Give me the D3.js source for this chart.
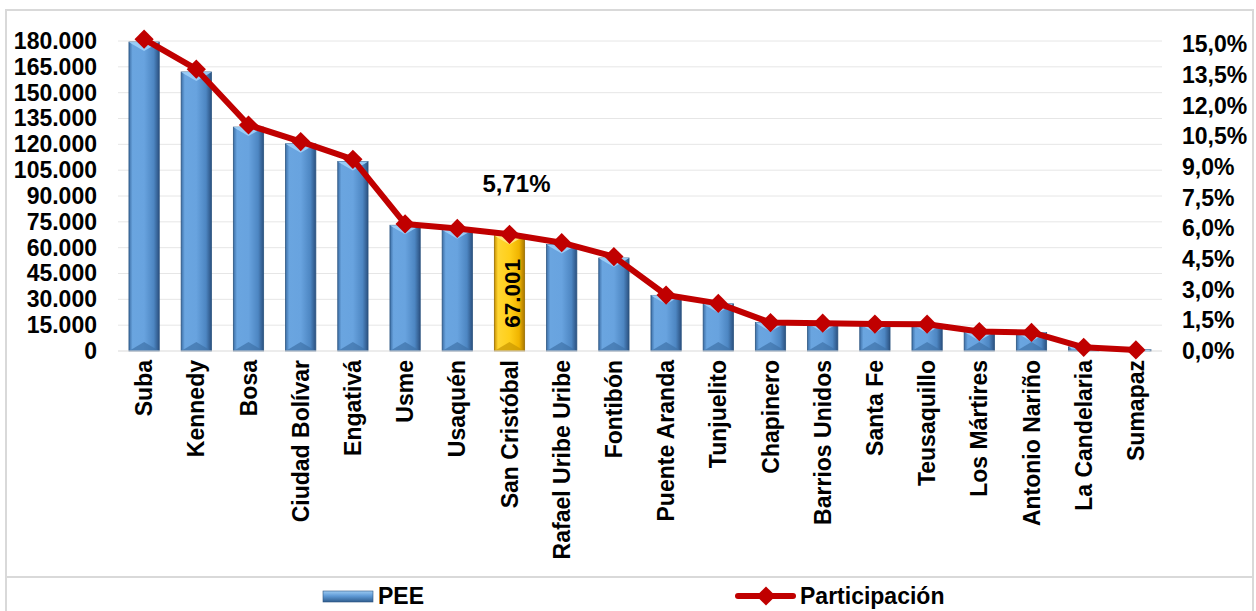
<!DOCTYPE html>
<html>
<head>
<meta charset="utf-8">
<script src="https://cdn.jsdelivr.net/npm/d3@7"></script>
<style>
  body { margin: 0; background: #fff; }
  svg { display: block; font-family: Arial, "Liberation Sans", sans-serif; font-weight: bold; }
</style>
</head>
<body>
<svg id="chart" width="1256" height="611"></svg>
<script>
// Localidades de Bogotá (ordered as in the chart)
const localidades = ["Suba", "Kennedy", "Bosa", "Ciudad Bolívar", "Engativá", "Usme", "Usaquén",
  "San Cristóbal", "Rafael Uribe Uribe", "Fontibón", "Puente Aranda", "Tunjuelito", "Chapinero",
  "Barrios Unidos", "Santa Fe", "Teusaquillo", "Los Mártires", "Antonio Nariño", "La Candelaria", "Sumapaz"];

// PEE per localidad (bars, left axis)
const pee = [179400, 162000, 130000, 120300, 110000, 73000, 70400, 67001, 61800, 54000,
  32300, 27400, 16500, 16100, 15700, 15500, 11200, 10700, 2400, 700];

// Participación (line, right axis), in %
const participacion = [15.26, 13.79, 11.06, 10.25, 9.38, 6.22, 6.00, 5.71, 5.30, 4.62,
  2.74, 2.33, 1.39, 1.36, 1.32, 1.31, 0.95, 0.91, 0.18, 0.05];

const leftTicks = d3.range(0, 180001, 15000);
const rightTicks = d3.range(0, 15.01, 1.5);
const highlight = "San Cristóbal";

const svg = d3.select("#chart");
const defs = svg.append("defs");

// gradients for the bevelled bars
function hGradient(id, stops) {
  const g = defs.append("linearGradient").attr("id", id)
    .attr("x1", "0%").attr("x2", "100%").attr("y1", "0%").attr("y2", "0%");
  stops.forEach(s => g.append("stop").attr("offset", s[0]).attr("stop-color", s[1]));
}
hGradient("blueBar", [["0%", "#3d6fa6"], ["12%", "#6aa5e0"], ["50%", "#68a3df"], ["82%", "#4d86c2"], ["100%", "#2b5180"]]);
hGradient("goldBar", [["0%", "#c89000"], ["12%", "#ffd633"], ["50%", "#ffcf1a"], ["82%", "#f0b400"], ["100%", "#a87600"]]);
const vg = defs.append("linearGradient").attr("id", "blueLegend")
  .attr("x1", "0%").attr("x2", "0%").attr("y1", "0%").attr("y2", "100%");
[["0%", "#9ccaf2"], ["45%", "#5f9ad6"], ["100%", "#2f5d8e"]]
  .forEach(s => vg.append("stop").attr("offset", s[0]).attr("stop-color", s[1]));

// chart frame + legend separator
svg.append("rect").attr("x", 6).attr("y", 10).attr("width", 1247).attr("height", 640)
  .attr("fill", "none").attr("stroke", "#d9d9d9").attr("stroke-width", 2);
svg.append("line").attr("x1", 6).attr("x2", 1253).attr("y1", 577).attr("y2", 577)
  .attr("stroke", "#d9d9d9").attr("stroke-width", 2);

const x = d3.scaleBand().domain(localidades).range([118, 1162])
  .paddingInner(0.42).paddingOuter(0.21);
const yLeft = d3.scaleLinear().domain([0, 180000]).range([351, 41]);
const yRight = d3.scaleLinear().domain([0, 15]).range([351, 44.5]);

// gridlines
svg.append("g").selectAll("line").data(leftTicks.slice(1)).join("line")
  .attr("x1", 118).attr("x2", 1162)
  .attr("y1", d => yLeft(d)).attr("y2", d => yLeft(d))
  .attr("stroke", "#e6e6e6").attr("stroke-width", 1);

// left axis
const fmtThousands = d3.formatLocale({ decimal: ",", thousands: ".", grouping: [3], currency: ["", ""] }).format(",");
const leftAxis = d3.axisLeft(yLeft).tickValues(leftTicks).tickSize(0).tickPadding(0).tickFormat(fmtThousands);
const gl = svg.append("g").attr("transform", "translate(97,0)").call(leftAxis);
gl.select(".domain").remove();
gl.selectAll("text").attr("font-size", 23).attr("font-weight", "bold").attr("fill", "#000")
  .attr("font-family", "Arial, 'Liberation Sans', sans-serif");

// right axis
const rightAxis = d3.axisRight(yRight).tickValues(rightTicks).tickSize(0).tickPadding(0)
  .tickFormat(d => d.toFixed(1).replace(".", ",") + "%");
const gr = svg.append("g").attr("transform", "translate(1182,0)").call(rightAxis);
gr.select(".domain").remove();
gr.selectAll("text").attr("font-size", 23).attr("font-weight", "bold").attr("fill", "#000")
  .attr("font-family", "Arial, 'Liberation Sans', sans-serif");

// bars
const bw = x.bandwidth();
const bars = svg.append("g").selectAll("g").data(localidades).join("g")
  .attr("transform", d => `translate(${x(d)},0)`);
bars.append("rect")
  .attr("x", 0).attr("width", bw)
  .attr("y", (d, i) => yLeft(pee[i]))
  .attr("height", (d, i) => yLeft(0) - yLeft(pee[i]))
  .attr("fill", d => d === highlight ? "url(#goldBar)" : "url(#blueBar)")
  .attr("stroke", d => d === highlight ? "#9a6e00" : "#2c5580")
  .attr("stroke-width", 0.8);
// top bevel (light chevron)
bars.append("path")
  .attr("d", (d, i) => {
    const t = yLeft(pee[i]), h = Math.min(9, (yLeft(0) - t) / 2);
    return `M0,${t}H${bw}L${bw - 3},${t + 2}L${bw / 2},${t + h}L3,${t + 2}Z`;
  })
  .attr("fill", d => d === highlight ? "#ffe98a" : "#9fd0fa").attr("opacity", 0.9);
// bottom bevel (dark)
bars.append("path")
  .attr("d", (d, i) => {
    const b = yLeft(0), h = Math.min(9, (b - yLeft(pee[i])) / 2);
    return `M0,${b}H${bw}L${bw / 2},${b - h}Z`;
  })
  .attr("fill", d => d === highlight ? "#c99700" : "#3e72a8").attr("opacity", 0.7);

// baseline
svg.append("line").attr("x1", 118).attr("x2", 1162).attr("y1", 351).attr("y2", 351)
  .attr("stroke", "#d9d9d9").attr("stroke-width", 1);

// line series
const cx = d => x(d) + bw / 2;
const line = d3.line().x((d, i) => cx(localidades[i])).y(d => yRight(d));
svg.append("path").datum(participacion).attr("d", line)
  .attr("fill", "none").attr("stroke", "#c00000").attr("stroke-width", 6)
  .attr("stroke-linejoin", "round");
const diamond = d3.symbol(d3.symbolSquare, 185);
svg.append("g").selectAll("path").data(participacion).join("path")
  .attr("d", diamond)
  .attr("transform", (d, i) => `translate(${cx(localidades[i])},${yRight(d)}) rotate(45)`)
  .attr("fill", "#c00000");

// data labels for the highlighted bar
const hi = localidades.indexOf(highlight);
svg.append("text").attr("x", cx(highlight) + 7).attr("y", 192)
  .attr("text-anchor", "middle").attr("font-size", 24).text(participacion[hi].toFixed(2).replace(".", ",") + "%");
svg.append("text")
  .attr("transform", `translate(${cx(highlight) + 10},${(yLeft(pee[hi]) + yLeft(0)) / 2}) rotate(-90)`)
  .attr("text-anchor", "middle").attr("font-size", 22.5).text(fmtThousands(pee[hi]));

// category labels
svg.append("g").selectAll("text").data(localidades).join("text")
  .attr("transform", d => `translate(${cx(d) + 8},360) rotate(-90)`)
  .attr("text-anchor", "end").attr("font-size", 23).text(d => d);

// legend
svg.append("rect").attr("x", 323).attr("y", 591).attr("width", 50).attr("height", 11)
  .attr("fill", "url(#blueLegend)").attr("stroke", "#2c5580").attr("stroke-width", 0.6);
svg.append("text").attr("x", 378).attr("y", 604).attr("font-size", 23).text("PEE");
svg.append("line").attr("x1", 738).attr("x2", 793).attr("y1", 596).attr("y2", 596)
  .attr("stroke", "#c00000").attr("stroke-width", 6).attr("stroke-linecap", "round");
svg.append("path").attr("d", diamond).attr("transform", "translate(766,596) rotate(45)").attr("fill", "#c00000");
svg.append("text").attr("x", 800).attr("y", 604).attr("font-size", 23).text("Participación");
</script>
</body>
</html>
